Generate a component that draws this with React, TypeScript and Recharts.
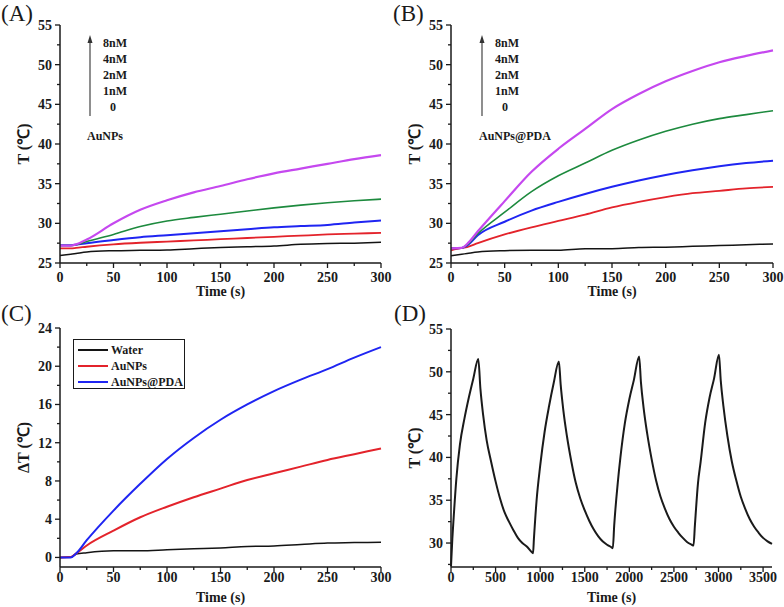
import { LineChart, Line, XAxis, YAxis, Legend } from "recharts";

// ---- data ----
const timeAB = [0, 10, 15, 25, 50, 75, 100, 125, 150, 175, 200, 225, 250, 275, 300];

// (A) AuNPs, T in °C
const aConc0 = [25.95, 26.1, 26.2, 26.4, 26.55, 26.6, 26.65, 26.8, 26.95, 27.05, 27.15, 27.35, 27.45, 27.5, 27.6];
const aConc1 = [26.85, 26.85, 26.9, 27.05, 27.35, 27.55, 27.7, 27.85, 28.0, 28.15, 28.3, 28.45, 28.6, 28.7, 28.8];
const aConc2 = [27.25, 27.25, 27.3, 27.5, 27.9, 28.25, 28.5, 28.75, 29.0, 29.25, 29.5, 29.65, 29.8, 30.1, 30.35];
const aConc4 = [27.2, 27.2, 27.3, 27.7, 28.6, 29.6, 30.3, 30.75, 31.15, 31.55, 31.95, 32.3, 32.6, 32.85, 33.05];
const aConc8 = [27.2, 27.2, 27.35, 27.95, 30.0, 31.7, 32.9, 33.9, 34.7, 35.55, 36.3, 36.9, 37.5, 38.1, 38.6];

// (B) AuNPs@PDA, T in °C
const bConc0 = [25.9, 26.1, 26.2, 26.4, 26.55, 26.6, 26.6, 26.8, 26.8, 26.95, 27.0, 27.1, 27.2, 27.3, 27.4];
const bConc1 = [26.6, 26.9, 27.0, 27.5, 28.6, 29.5, 30.3, 31.1, 32.0, 32.7, 33.3, 33.8, 34.1, 34.4, 34.6];
const bConc2 = [26.85, 26.9, 27.2, 28.5, 30.2, 31.6, 32.7, 33.7, 34.6, 35.4, 36.1, 36.7, 37.2, 37.6, 37.9];
const bConc4 = [26.85, 26.9, 27.3, 28.7, 31.4, 34.0, 36.0, 37.6, 39.2, 40.5, 41.6, 42.5, 43.2, 43.7, 44.2];
const bConc8 = [26.85, 26.9, 27.4, 29.0, 32.8, 36.5, 39.4, 41.9, 44.4, 46.3, 47.9, 49.2, 50.3, 51.1, 51.8];

// (C) temperature rise
const cWater = [0, 0.05, 0.35, 0.5, 0.7, 0.7, 0.8, 0.9, 1.0, 1.15, 1.2, 1.35, 1.5, 1.55, 1.6];
const cAuNPs = [0, 0.05, 0.4, 1.25, 2.8, 4.2, 5.3, 6.3, 7.2, 8.1, 8.8, 9.5, 10.2, 10.8, 11.4];
const cPDA = [0, 0, 0.4, 1.8, 4.9, 7.7, 10.3, 12.5, 14.4, 16.0, 17.4, 18.6, 19.7, 20.9, 22.0];
const cNames = ["Water", "AuNPs", "AuNPs@PDA"];

// (D) heating / cooling cycles
const dTime = [
  0, 15, 30, 60, 100, 150, 200, 250, 306,
  330, 360, 400, 450, 500, 550, 600, 650, 700, 750, 800, 850, 900, 920,
  930, 960, 1000, 1050, 1100, 1150, 1210,
  1230, 1260, 1300, 1350, 1400, 1450, 1500, 1550, 1600, 1650, 1700, 1750, 1800, 1815,
  1830, 1870, 1900, 1950, 2000, 2050, 2110,
  2130, 2160, 2200, 2250, 2300, 2350, 2400, 2450, 2500, 2550, 2600, 2650, 2700, 2720,
  2735, 2770, 2800, 2850, 2900, 2950, 3005,
  3025, 3055, 3100, 3150, 3200, 3250, 3300, 3350, 3400, 3450, 3500, 3550, 3600,
];
const dTemp = [
  27.3, 30.5, 33, 37.5, 41.5, 44.5, 47, 49.2, 51.5,
  48, 45, 42, 39.5, 37.2, 35.2, 33.6, 32.5, 31.5, 30.6, 30.0, 29.6, 29.0, 28.8,
  30.5, 35.0, 39.0, 43.0, 46.0, 48.6, 51.2,
  48.5, 45.5, 42.5, 39.5, 37, 35.2, 33.8, 32.6, 31.6, 30.8, 30.2, 29.8, 29.5, 29.4,
  32, 37, 40, 44, 46.8, 49, 51.8,
  48.8, 45.8, 42.8, 39.8, 37.3, 35.4, 34, 32.8, 31.9, 31.2, 30.6, 30.1, 29.8, 29.7,
  32, 37, 39.5, 44, 47, 49.2, 52.0,
  49, 46, 42.5, 39.5, 37.3, 35.4, 34, 32.8, 31.9, 31.2, 30.6, 30.2, 29.9,
];

// ticks
const tTicks = [0, 25, 50, 75, 100, 125, 150, 175, 200, 225, 250, 275, 300];
const tMajor = [0, 50, 100, 150, 200, 250, 300];
const tempTicks = [25, 27.5, 30, 32.5, 35, 37.5, 40, 42.5, 45, 47.5, 50, 52.5, 55];
const tempMajor = [25, 30, 35, 40, 45, 50, 55];
const dtTicks = [0, 2, 4, 6, 8, 10, 12, 14, 16, 18, 20, 22, 24];
const dtMajor = [0, 4, 8, 12, 16, 20, 24];
const cycTicks = [0, 250, 500, 750, 1000, 1250, 1500, 1750, 2000, 2250, 2500, 2750, 3000, 3250, 3500];
const cycMajor = [0, 500, 1000, 1500, 2000, 2500, 3000, 3500];
const cycTempTicks = [27.5, 30, 32.5, 35, 37.5, 40, 42.5, 45, 47.5, 50, 52.5, 55];
const cycTempMajor = [30, 35, 40, 45, 50, 55];

const concLabels = ["8nM", "4nM", "2nM", "1nM", "0"];

const FONT = "'Liberation Serif', 'Times New Roman', serif";
const INK = "#1a1a1a";
const colors = { c0: "#141414", c1: "#e3232b", c2: "#1f25f2", c4: "#1d8a3e", c8: "#c548ef" };

const rowsA = timeAB.map((t, i) => ({ t, c0: aConc0[i], c1: aConc1[i], c2: aConc2[i], c4: aConc4[i], c8: aConc8[i] }));
const rowsB = timeAB.map((t, i) => ({ t, c0: bConc0[i], c1: bConc1[i], c2: bConc2[i], c4: bConc4[i], c8: bConc8[i] }));
const rowsC = timeAB.map((t, i) => ({ t, water: cWater[i], aunps: cAuNPs[i], pda: cPDA[i] }));
const rowsD = dTime.map((t, i) => ({ t, temp: dTemp[i] }));

// tick renderers: minor ticks get a shorter line and no label
const yTick = (majors: number[]) => (props: any) => {
  const { x, y, payload } = props;
  const edge = x + 8;
  const major = majors.includes(payload.value);
  return (
    <g>
      <line x1={edge - (major ? 5 : 3)} x2={edge} y1={y} y2={y} stroke={INK} strokeWidth={1.3} />
      {major && (
        <text x={x} y={y} dy={5} textAnchor="end" fontFamily={FONT} fontWeight="bold" fontSize={14} fill={INK}>
          {payload.value}
        </text>
      )}
    </g>
  );
};

const xTick = (majors: number[], dy: number) => (props: any) => {
  const { x, y, payload } = props;
  const edge = y - 8;
  const major = majors.includes(payload.value);
  return (
    <g>
      <line x1={x} x2={x} y1={edge} y2={edge + (major ? 5 : 3)} stroke={INK} strokeWidth={1.3} />
      {major && (
        <text x={x} y={y} dy={dy} textAnchor="middle" fontFamily={FONT} fontWeight="bold" fontSize={14} fill={INK}>
          {payload.value}
        </text>
      )}
    </g>
  );
};

const labelStyle = { fontFamily: FONT, fontWeight: "bold", fontSize: 14, fill: INK };
const yLabelStyle = { ...labelStyle, fontSize: 16 };
const frameLine = { stroke: INK, strokeWidth: 1.5 };

function ConcLegend({ x, name }: { x: number; name: string }) {
  // arrow + concentration list drawn over panels A and B
  return (
    <g fontFamily={FONT} fontWeight="bold" fontSize={12} fill={INK}>
      <line x1={x} x2={x} y1={116} y2={42} stroke="#444" strokeWidth={1.2} />
      <polygon points={`${x - 2.5},43 ${x + 2.5},43 ${x},35`} fill="#333" />
      {concLabels.map((c, i) => (
        <text key={c} x={c === "0" ? x + 20 : x + 13} y={47 + i * 16}>
          {c}
        </text>
      ))}
      <text x={x - 3} y={140}>{name}</text>
    </g>
  );
}

function LegendBox({ payload }: any) {
  const items = [...(payload || [])].sort((a: any, b: any) => cNames.indexOf(a.value) - cNames.indexOf(b.value));
  return (
    <div
      style={{
        border: `1px solid ${INK}`,
        boxSizing: "border-box",
        width: 112,
        height: 50,
        padding: "2px 0 0 4px",
        background: "#fff",
        fontFamily: FONT,
        fontWeight: "bold",
        fontSize: 12,
        color: INK,
      }}
    >
      {items.map((p: any) => (
        <div key={p.value} style={{ display: "flex", alignItems: "center", height: 16 }}>
          <span style={{ display: "inline-block", width: 30, height: 2, background: p.color, marginRight: 3 }} />
          <span>{p.value}</span>
        </div>
      ))}
    </div>
  );
}

function TempPanel({ left, yWidth, rows }: { left: number; yWidth: number; rows: any[] }) {
  return (
    <div style={{ position: "absolute", left, top: 0 }}>
      <LineChart width={392} height={300} data={rows} margin={{ top: 25, right: 11, left: 0, bottom: 0 }}>
        <XAxis dataKey="t" type="number" domain={[0, 300]} ticks={tTicks} interval={0} height={37}
          tickSize={5} tickMargin={3} tickLine={false} tick={xTick(tMajor, 11)} axisLine={frameLine}
          label={{ value: "Time (s)", position: "insideBottom", offset: 4, style: labelStyle }} />
        <YAxis type="number" domain={[25, 55]} ticks={tempTicks} interval={0} width={yWidth}
          tickSize={5} tickMargin={3} tickLine={false} tick={yTick(tempMajor)} axisLine={frameLine}
          label={{ value: "T (℃)", angle: -90, position: "center", dx: -7, style: yLabelStyle }} />
        <XAxis xAxisId="top" orientation="top" type="number" domain={[0, 300]} height={0} tick={false} tickLine={false}
          axisLine={frameLine} />
        <YAxis yAxisId="right" orientation="right" type="number" domain={[25, 55]} width={0} tick={false} tickLine={false}
          axisLine={frameLine} />
        <Line dataKey="c0" stroke={colors.c0} strokeWidth={1.5} dot={false} type="monotone" isAnimationActive={false} />
        <Line dataKey="c1" stroke={colors.c1} strokeWidth={1.8} dot={false} type="monotone" isAnimationActive={false} />
        <Line dataKey="c2" stroke={colors.c2} strokeWidth={2} dot={false} type="monotone" isAnimationActive={false} />
        <Line dataKey="c4" stroke={colors.c4} strokeWidth={1.6} dot={false} type="monotone" isAnimationActive={false} />
        <Line dataKey="c8" stroke={colors.c8} strokeWidth={2.2} dot={false} type="monotone" isAnimationActive={false} />
      </LineChart>
    </div>
  );
}

export default function App() {
  return (
    <div style={{ position: "absolute", left: 0, top: 0, width: 784, height: 607, background: "#fff", fontFamily: FONT }}>
      <TempPanel left={0} yWidth={60} rows={rowsA} />
      <TempPanel left={392} yWidth={59} rows={rowsB} />

      {/* (C) */}
      <div style={{ position: "absolute", left: 0, top: 300 }}>
        <LineChart width={392} height={307} data={rowsC} margin={{ top: 28, right: 11, left: 0, bottom: 0 }}>
          <XAxis dataKey="t" type="number" domain={[0, 300]} ticks={tTicks} interval={0} height={40}
            tickSize={5} tickMargin={3} tickLine={false} tick={xTick(tMajor, 7)} axisLine={frameLine}
            label={{ value: "Time (s)", position: "insideBottom", offset: 5, style: labelStyle }} />
          <YAxis type="number" domain={[-1, 24]} ticks={dtTicks} interval={0} width={60}
            tickSize={5} tickMargin={3} tickLine={false} tick={yTick(dtMajor)} axisLine={frameLine}
            label={{ value: "ΔT (℃)", angle: -90, position: "center", dx: -7, style: yLabelStyle }} />
          <XAxis xAxisId="top" orientation="top" type="number" domain={[0, 300]} height={0} tick={false} tickLine={false}
            axisLine={frameLine} />
          <YAxis yAxisId="right" orientation="right" type="number" domain={[-1, 24]} width={0} tick={false} tickLine={false}
            axisLine={frameLine} />
          <Legend layout="vertical" align="center" verticalAlign="middle" content={LegendBox}
            wrapperStyle={{ left: 73, top: 39, width: 112, height: 50 }} />
          <Line name="Water" dataKey="water" stroke={colors.c0} strokeWidth={1.5} dot={false} type="monotone" isAnimationActive={false} />
          <Line name="AuNPs" dataKey="aunps" stroke={colors.c1} strokeWidth={2} dot={false} type="monotone" isAnimationActive={false} />
          <Line name="AuNPs@PDA" dataKey="pda" stroke={colors.c2} strokeWidth={2} dot={false} type="monotone" isAnimationActive={false} />
        </LineChart>
      </div>

      {/* (D) */}
      <div style={{ position: "absolute", left: 392, top: 300 }}>
        <LineChart width={392} height={307} data={rowsD} margin={{ top: 29, right: 12, left: 0, bottom: 0 }}>
          <XAxis dataKey="t" type="number" domain={[0, 3600]} ticks={cycTicks} interval={0} height={40}
            tickSize={5} tickMargin={3} tickLine={false} tick={xTick(cycMajor, 7)} axisLine={frameLine}
            label={{ value: "Time (s)", position: "insideBottom", offset: 5, style: labelStyle }} />
          <YAxis type="number" domain={[27.2, 55]} ticks={cycTempTicks} interval={0} width={59} allowDataOverflow
            tickSize={5} tickMargin={3} tickLine={false} tick={yTick(cycTempMajor)} axisLine={frameLine}
            label={{ value: "T (℃)", angle: -90, position: "center", dx: -7, style: yLabelStyle }} />
          <XAxis xAxisId="top" orientation="top" type="number" domain={[0, 3600]} height={0} tick={false} tickLine={false}
            axisLine={frameLine} />
          <YAxis yAxisId="right" orientation="right" type="number" domain={[27.2, 55]} width={0} tick={false} tickLine={false}
            axisLine={frameLine} />
          <Line dataKey="temp" stroke={INK} strokeWidth={2} dot={false} type="monotone" isAnimationActive={false} />
        </LineChart>
      </div>

      {/* panel letters and the concentration arrows */}
      <svg width={784} height={607} style={{ position: "absolute", left: 0, top: 0, pointerEvents: "none" }}>
        <g fontFamily={FONT} fontSize={23} fill={INK}>
          <text x={1} y={21}>(A)</text>
          <text x={393} y={21}>(B)</text>
          <text x={1} y={321}>(C)</text>
          <text x={394} y={321}>(D)</text>
        </g>
        <ConcLegend x={90} name="AuNPs" />
        <ConcLegend x={482} name="AuNPs@PDA" />
      </svg>
    </div>
  );
}
